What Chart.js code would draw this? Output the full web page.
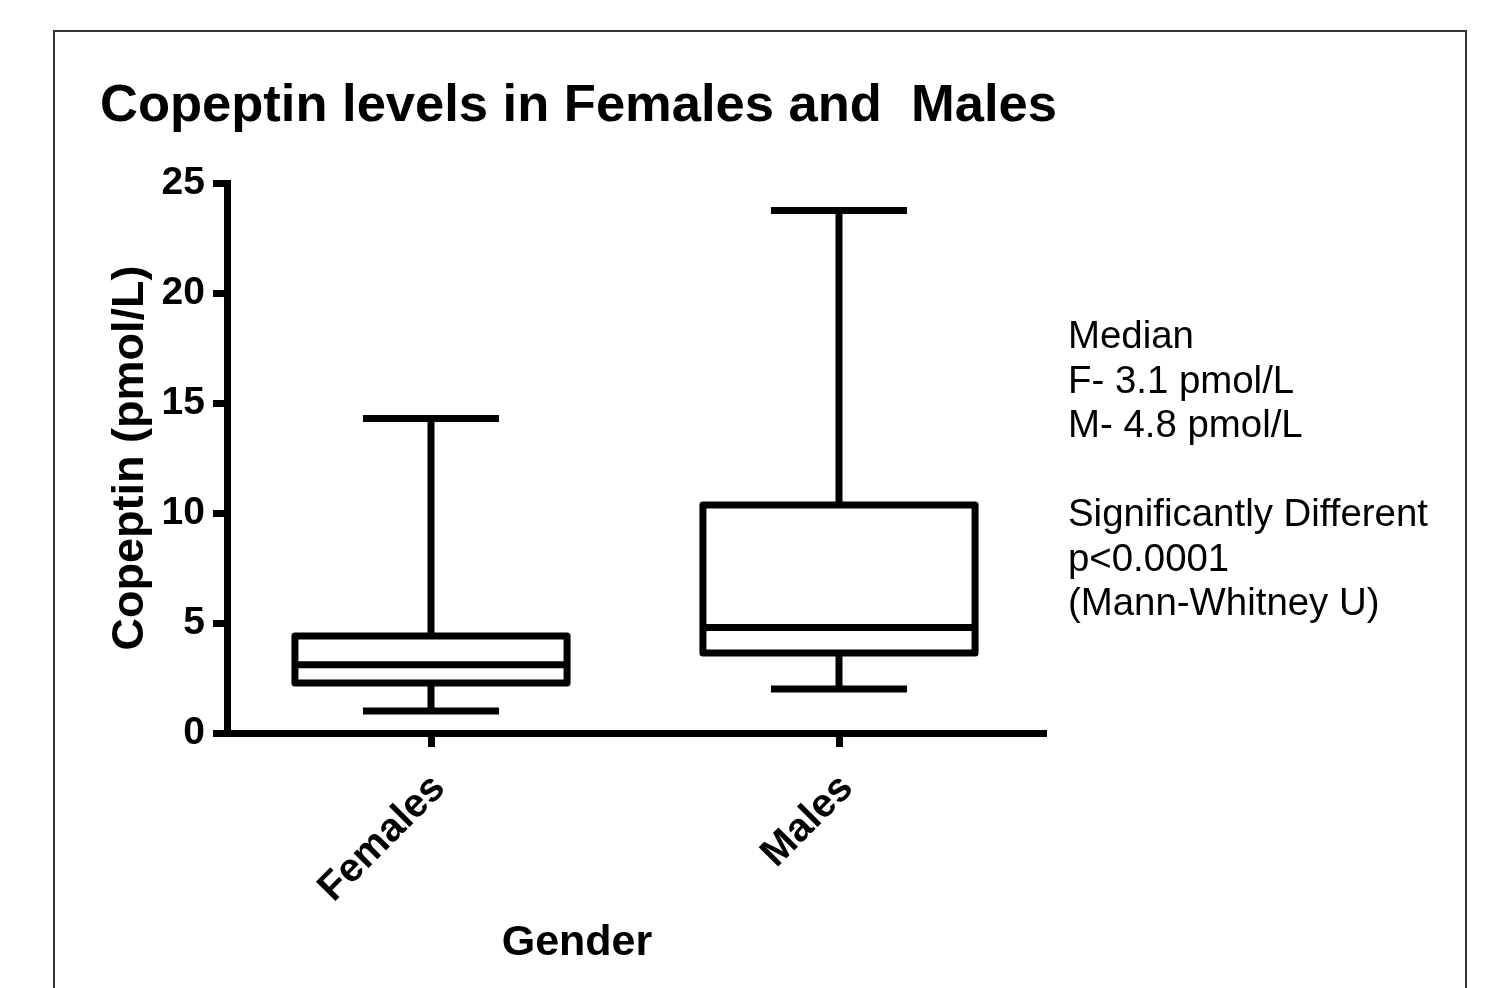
<!DOCTYPE html>
<html>
<head>
<meta charset="utf-8">
<script src="https://cdn.jsdelivr.net/npm/chart.js@4.4.1/dist/chart.umd.min.js"></script>
<style>
  html, body { margin: 0; padding: 0; background: #fff; overflow: hidden; }
  #wrap { position: absolute; left: 0; top: 0; width: 1487px; height: 988px; }
  #frame { position: absolute; left: 53px; top: 30px; width: 1410px; height: 1000px;
           border: 2px solid #333; border-bottom: none; }
  #chart { position: absolute; left: 0; top: 0; }
  .t { position: absolute; font-family: Arial, "Liberation Sans", sans-serif; color: #000; white-space: pre; }
  #title { left: 100px; top: 73px; font-size: 52.5px; font-weight: bold; line-height: 60px; }
  #note { left: 1068px; top: 313px; font-size: 38.4px; line-height: 44.5px; }
  #xtitle { left: 477px; top: 915px; width: 200px; text-align: center; font-size: 43px;
            font-weight: bold; line-height: 50px; }
</style>
</head>
<body>
<div id="wrap">
  <div id="frame"></div>
  <canvas id="chart" width="1487" height="988"></canvas>
  <div class="t" id="title">Copeptin levels in Females and  Males</div>
  <div class="t" id="note">Median
F- 3.1 pmol/L
M- 4.8 pmol/L

Significantly Different
p&lt;0.0001
(Mann-Whitney U)</div>
  <div class="t" id="xtitle">Gender</div>
</div>
<script>
// Copeptin (pmol/L) summary per group
const categories    = ['Females', 'Males'];
const minimum       = [1.0, 2.0];
const lowerQuartile = [2.27, 3.64];
const median        = [3.1, 4.8];
const upperQuartile = [4.41, 10.36];
const maximum       = [14.3, 23.75];
const yTicks        = [0, 5, 10, 15, 20, 25];

const FONT = 'Arial, "Liberation Sans", sans-serif';
const LINE = 7;

// Draws whiskers, caps, box outline and median line for each bar element
const boxWhisker = {
  id: 'boxWhisker',
  afterDatasetsDraw(chart) {
    const ctx = chart.ctx;
    const y = chart.scales.y;
    const meta = chart.getDatasetMeta(0);
    ctx.save();
    ctx.strokeStyle = '#000';
    ctx.lineWidth = LINE;
    ctx.lineJoin = 'round';
    ctx.lineCap = 'butt';
    meta.data.forEach((bar, i) => {
      const cx = bar.x;
      const half = bar.width / 2;
      const capHalf = half * 0.5;
      const yMin = y.getPixelForValue(minimum[i]);
      const yQ1 = y.getPixelForValue(lowerQuartile[i]);
      const yMed = y.getPixelForValue(median[i]);
      const yQ3 = y.getPixelForValue(upperQuartile[i]);
      const yMax = y.getPixelForValue(maximum[i]);

      ctx.beginPath();
      ctx.moveTo(cx, yQ3); ctx.lineTo(cx, yMax);
      ctx.moveTo(cx - capHalf, yMax); ctx.lineTo(cx + capHalf, yMax);
      ctx.moveTo(cx, yQ1); ctx.lineTo(cx, yMin);
      ctx.moveTo(cx - capHalf, yMin); ctx.lineTo(cx + capHalf, yMin);
      ctx.stroke();

      ctx.strokeRect(cx - half, yQ3, 2 * half, yQ1 - yQ3);

      ctx.beginPath();
      ctx.moveTo(cx - half, yMed); ctx.lineTo(cx + half, yMed);
      ctx.stroke();
    });
    ctx.restore();
  }
};

new Chart(document.getElementById('chart'), {
  type: 'bar',
  data: {
    labels: categories,
    datasets: [{
      label: 'Copeptin',
      data: categories.map((_, i) => [lowerQuartile[i], upperQuartile[i]]),
      backgroundColor: 'rgba(0,0,0,0)',
      borderWidth: 0,
      categoryPercentage: 1,
      barPercentage: 0.667
    }]
  },
  options: {
    responsive: false,
    animation: false,
    events: [],
    layout: { padding: { left: 80, top: 183, right: 444, bottom: 55 } },
    plugins: {
      legend: { display: false },
      tooltip: { enabled: false },
      title: { display: false }
    },
    scales: {
      x: {
        offset: true,
        afterFit(scale) { scale.height = 200; },
        border: { display: true, color: '#000', width: LINE },
        grid: {
          offset: false, drawOnChartArea: false, drawTicks: true,
          tickLength: 14, tickWidth: LINE, lineWidth: LINE, tickColor: '#000', color: '#000'
        },
        ticks: {
          autoSkip: false, minRotation: 45, maxRotation: 45, padding: 18, labelOffset: 8,
          color: '#000', font: { family: FONT, size: 40, weight: 'bold' }
        }
      },
      y: {
        min: 0,
        max: 25,
        afterFit(scale) { scale.width = 147; },
        afterBuildTicks(scale) { scale.ticks = yTicks.map(v => ({ value: v })); },
        border: { display: true, color: '#000', width: LINE },
        grid: {
          drawOnChartArea: false, drawTicks: true,
          tickLength: 14, tickWidth: LINE, lineWidth: LINE, tickColor: '#000', color: '#000'
        },
        ticks: {
          padding: 8, color: '#000',
          font: { family: FONT, size: 39, weight: 'bold' }
        },
        title: {
          display: true,
          text: 'Copeptin (pmol/L)',
          color: '#000',
          padding: { top: 24, bottom: 0 },
          font: { family: FONT, size: 45, weight: 'bold' }
        }
      }
    }
  },
  plugins: [boxWhisker]
});
</script>
</body>
</html>
